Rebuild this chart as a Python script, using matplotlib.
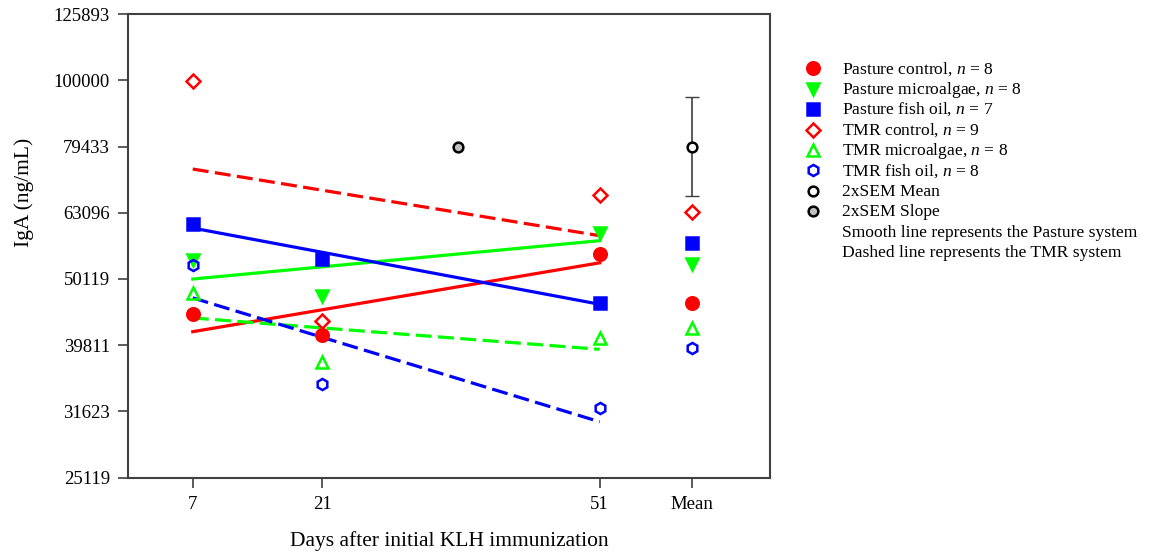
import matplotlib.pyplot as plt
from matplotlib.lines import Line2D

plt.rcParams['font.family'] = ['Liberation Serif', 'DejaVu Serif']
plt.rcParams['mathtext.fontset'] = 'custom'
plt.rcParams['mathtext.it'] = 'Liberation Serif:italic'
plt.rcParams['mathtext.rm'] = 'Liberation Serif'

# sampling days and the "Mean" column position
days = [7, 21, 51]
mean_pos = 61
x_ticks = [7, 21, 51, 61]
x_ticklabels = ['7', '21', '51', 'Mean']

y_ticks = [25119, 31623, 39811, 50119, 63096, 79433, 100000, 125893]
y_ticklabels = ['25119', '31623', '39811', '50119', '63096', '79433', '100000', '125893']

# IgA (ng/mL) per day, and overall mean
pasture_control = [44380, 41250, 54600]
pasture_microalgae = [53540, 47300, 58870]
pasture_fish_oil = [60670, 53720, 46060]
tmr_control = [99750, 43350, 67090]
tmr_microalgae = [47700, 37600, 40780]
tmr_fish_oil = [52620, 34750, 31960]
means = [46060, 52740, 56850, 63320, 42220, 39470]

# regression lines, value at day 7 and day 51
fit_start = [41730, 50110, 59830, 73450, 43770, 46930]
fit_end = [53020, 57260, 45900, 58260, 39250, 30510]

# 2xSEM markers
sem_mean_value = 79433
sem_mean_low = 66800
sem_mean_high = 94400
sem_slope_day = 35.7
sem_slope_value = 79433

labels = ['Pasture control, $n$ = 8', 'Pasture microalgae, $n$ = 8',
          'Pasture fish oil, $n$ = 7', 'TMR control, $n$ = 9',
          'TMR microalgae, $n$ = 8', 'TMR fish oil, $n$ = 8']
series = [pasture_control, pasture_microalgae, pasture_fish_oil,
          tmr_control, tmr_microalgae, tmr_fish_oil]
colors = ['#ff0000', '#00ff00', '#0000ff', '#ff0000', '#00ff00', '#0000ff']
markers = ['o', 'v', 's', 'D', '^', 'h']
sizes = [9, 9, 8, 7.5, 8, 8]
filled = [True, True, True, False, False, False]

W, H = 1149, 554
fig = plt.figure(figsize=(W / 100, H / 100), dpi=100)
ax = fig.add_axes([0.1114, 0.1377, 0.5587, 0.837])

styles = []
for i in range(6):
    ls = '-' if filled[i] else (0, (5, 2))
    ax.plot([days[0], days[-1]], [fit_start[i], fit_end[i]], color=colors[i],
            lw=2.3, linestyle=ls, zorder=2)
for i in range(6):
    fc = colors[i] if filled[i] else 'none'
    kw = dict(marker=markers[i], markersize=sizes[i], markerfacecolor=fc,
              markeredgecolor=colors[i], markeredgewidth=1.8, linestyle='none')
    ax.plot(days, series[i], zorder=3, **kw)
    ax.plot([mean_pos], [means[i]], zorder=3, **kw)
    styles.append(kw)

sem_open = dict(marker='o', markersize=7, markerfacecolor='white',
                markeredgecolor='black', markeredgewidth=1.8, linestyle='none')
sem_gray = dict(marker='o', markersize=7, markerfacecolor='#c0c0c0',
                markeredgecolor='black', markeredgewidth=1.8, linestyle='none')
ax.errorbar([mean_pos], [sem_mean_value],
            yerr=[[sem_mean_value - sem_mean_low], [sem_mean_high - sem_mean_value]],
            fmt='none', ecolor='#404040', elinewidth=1.2, capsize=5, zorder=4)
ax.plot([mean_pos], [sem_mean_value], zorder=5, **sem_open)
ax.plot([sem_slope_day], [sem_slope_value], zorder=5, **sem_gray)
styles += [sem_open, sem_gray, None, None]
all_labels = labels + ['2xSEM Mean', '2xSEM Slope',
                       'Smooth line represents the Pasture system',
                       'Dashed line represents the TMR system']

ax.set_yscale('log')
ax.set_ylim(25119, 125893)
ax.set_xlim(0, 69.4)
ax.set_yticks(y_ticks)
ax.set_yticklabels(y_ticklabels)
ax.minorticks_off()
ax.set_xticks(x_ticks)
ax.set_xticklabels(x_ticklabels)
ax.tick_params(axis='both', labelsize=13.5, color='#404040', length=7, width=1.2,
               top=False, right=False, direction='out')
ax.tick_params(axis='y', pad=6)
ax.tick_params(axis='x', pad=6.5)
for s in ax.spines.values():
    s.set_color('#404040')
    s.set_linewidth(1.5)

ax.set_xlabel('Days after initial KLH immunization', fontsize=15.5, labelpad=13)
ax.set_ylabel('IgA (ng/mL)', fontsize=15.5)
ax.yaxis.set_label_coords(-0.146, 0.616)

# legend drawn row by row, outside the axes
for i, (kw, lab) in enumerate(zip(styles, all_labels)):
    yc = 68.3 + 20.4 * i
    if kw is not None:
        fig.add_artist(Line2D([813 / W], [1 - yc / H], transform=fig.transFigure, **kw))
    fig.text(842 / W, 1 - (yc + 5) / H, lab, fontsize=12.6, va='baseline', ha='left')

fig.savefig('out.png', dpi=100)
